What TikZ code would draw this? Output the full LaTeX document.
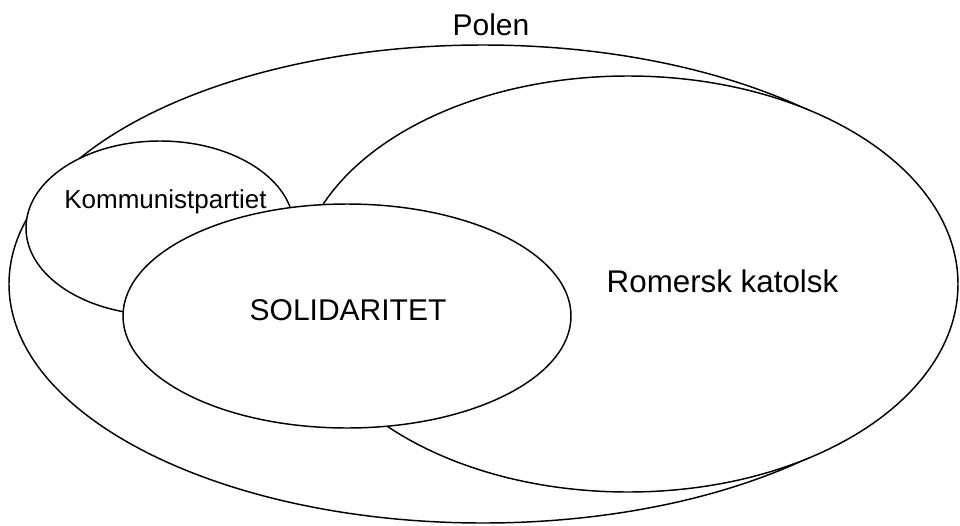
\documentclass[tikz,border=0pt]{standalone}
\usepackage{fontspec}
\setmainfont{Liberation Sans}
\begin{document}
\begin{tikzpicture}[x=0.75pt, y=-0.75pt,
    set/.style={draw, line width=1.1pt, fill=white},
    big/.style={font=\fontsize{22.5}{27}\selectfont, anchor=base, inner sep=0pt},
    small/.style={font=\fontsize{19.5}{23}\selectfont, anchor=base, inner sep=0pt}]
  \useasboundingbox (0,0) rectangle (960,525);

  % sets: Polen, katolsk, kommunist, solidaritet
  \foreach \cx/\cy/\rx/\ry in {483/284/474/239, 628/284/330/208, 160/228/134/87, 347/316/224/112} {
    \draw[set] (\cx,\cy) ellipse [x radius=\rx, y radius=\ry];
  }

  % labels
  \node[big] (polen) at (491,35) {Polen};
  \node[small] (komm) at (165.5,208.3) {Kommunistpartiet};
  \node[big] (soli) at (348,320) {SOLIDARITET};
  \node[big, font=\fontsize{23.5}{28}\selectfont] (kat) at (722.5,292.7) {Romersk katolsk};
\end{tikzpicture}
\end{document}
